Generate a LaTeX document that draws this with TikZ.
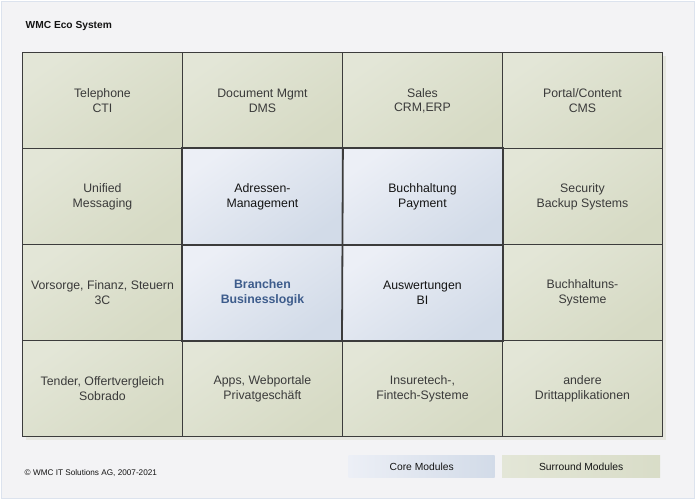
\documentclass[tikz,border=0pt]{standalone}
\usepackage{fontspec}
\setmainfont{Liberation Sans}
\definecolor{panelbg}{HTML}{F3F3F5}
\definecolor{panelbd}{HTML}{DCE3EE}
\definecolor{surA}{HTML}{E3E6D7}
\definecolor{surB}{HTML}{D6DAC4}
\definecolor{coreA}{HTML}{ECEFF6}
\definecolor{coreB}{HTML}{D2DBE8}
\definecolor{gridln}{HTML}{3C3C3C}
\definecolor{surtxt}{HTML}{3A3A3A}
\definecolor{coretxt}{HTML}{141414}
\definecolor{bltxt}{HTML}{3D5C8C}
\definecolor{shadowc}{HTML}{E6E7E0}
\newcommand{\cs}{\rule{0pt}{9.5pt}}
\tikzset{
  cellbase/.style={anchor=north west, minimum width=160pt, minimum height=96pt,
    inner sep=0pt, align=center, font=\fontsize{12.3}{14.6}\selectfont,
    draw=gridln, line width=0.9pt},
  surround/.style={cellbase, top color=surA, bottom color=surB, shading angle=35, text=surtxt},
  core/.style={cellbase, top color=coreA, bottom color=coreB, shading angle=35, text=coretxt},
  legendbox/.style={anchor=north west, minimum height=22.5pt, inner sep=0pt,
    font=\fontsize{10.3}{12}\selectfont, text=coretxt},
}
\begin{document}
\begin{tikzpicture}[x=1pt,y=-1pt]
\useasboundingbox (0,0) rectangle (699,503);
\fill[white] (0,0) rectangle (699,503);
\draw[panelbd, fill=panelbg, line width=1pt] (1.5,1.5) rectangle (694,498);
% shadow of grid
\fill[shadowc] (26,56) rectangle (666,440);
\node[anchor=west, inner sep=0pt, font=\bfseries\fontsize{10.2}{12}\selectfont, text=coretxt] (title) at (25.5,26) {WMC Eco System};
% row 1
\node[surround] (c11) at (22,52) {\cs Telephone\\\cs CTI};
\node[surround] (c12) at (182,52) {\cs Document Mgmt\\\cs DMS};
\node[surround] (c13) at (342,52) {\cs Sales\\\cs CRM,ERP};
\node[surround] (c14) at (502,52) {\cs Portal/Content\\\cs CMS};
% row 2
\node[surround] (c21) at (22,148) {\cs Unified\\\cs Messaging};
\node[core] (c22) at (182,148) {\cs Adressen-\\\cs Management};
\node[core] (c23) at (342,148) {\cs Buchhaltung\\\cs Payment};
\node[surround] (c24) at (502,148) {\cs Security\\\cs Backup Systems};
% row 3
\node[surround] (c31) at (22,244) {\cs Vorsorge, Finanz, Steuern\\\cs 3C};
\node[core, text=bltxt, font=\bfseries\fontsize{12.3}{14.6}\selectfont] (c32) at (182,244) {\cs Branchen\\\cs Businesslogik};
\node[core] (c33) at (342,244) {\cs Auswertungen\\\cs BI};
\node[surround] (c34) at (502,244) {\cs Buchhaltuns-\\\cs Systeme};
% row 4
\node[surround] (c41) at (22,340) {\cs Tender, Offertvergleich\\\cs Sobrado};
\node[surround] (c42) at (182,340) {\cs Apps, Webportale\\\cs Privatgesch\"aft};
\node[surround] (c43) at (342,340) {\cs Insuretech-,\\\cs Fintech-Systeme};
\node[surround] (c44) at (502,340) {\cs andere\\\cs Drittapplikationen};
% core borders thicker
\draw[gridln, line width=1.8pt] (c22.north west) rectangle (c33.south east);
\draw[gridln, line width=1.8pt] (c22.north east) -- (c33.south west);
\draw[gridln, line width=1.8pt] (c22.south west) -- (c33.north east |- c22.south west);
% legend
\node[legendbox, minimum width=146pt, left color=coreA, right color=coreB] (lcore) at (348.5,455) {Core Modules};
\node[legendbox, minimum width=158pt, left color=surA, right color=surB!80!surA] (lsur) at (502,455) {Surround Modules};
\node[anchor=west, inner sep=0pt, font=\fontsize{8.2}{10}\selectfont, text=coretxt] (copy) at (24.5,473) {\textcopyright{} WMC IT Solutions AG, 2007-2021};
\end{tikzpicture}
\end{document}
